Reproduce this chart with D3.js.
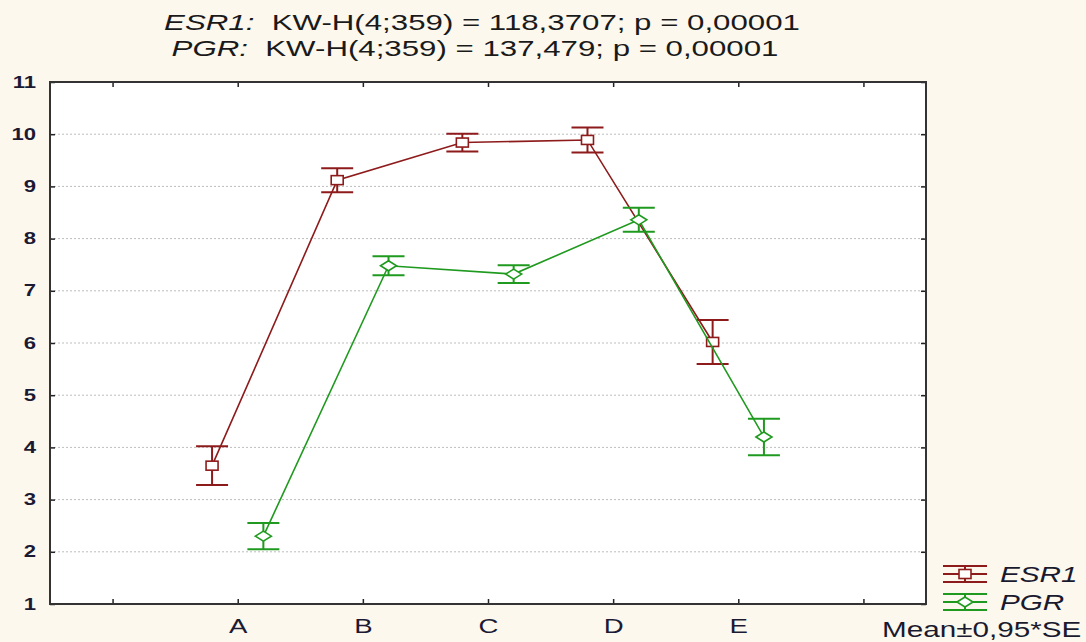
<!DOCTYPE html>
<html lang="en">
<head>
  <meta charset="UTF-8">
  <style>
    body {
      margin: 0;
      padding: 0;
      background: #fdf8ee;
      font-family: "Liberation Sans", Arial, sans-serif;
    }
    #chart {
      display: block;
    }
  </style>
</head>
<body>
  <svg id="chart"></svg>

  <script src="https://d3js.org/d3.v7.min.js"></script>
  <script>
    // data
    let xSlots = ["", "A", "B", "C", "D", "E", " "];
    let categories = ["A", "B", "C", "D", "E"];
    let esr1Mean = [3.65, 9.12, 9.84, 9.89, 6.02];
    let esr1Err  = [0.37, 0.23, 0.17, 0.24, 0.42];
    let pgrMean  = [2.30, 7.48, 7.32, 8.36, 4.20];
    let pgrErr   = [0.25, 0.18, 0.17, 0.23, 0.35];
    let yTicks = [1, 2, 3, 4, 5, 6, 7, 8, 9, 10, 11];
    let titleLines = [
      ["ESR1:", "  KW-H(4;359) = 118,3707; p = 0,00001"],
      ["PGR:", "  KW-H(4;359) = 137,479; p = 0,00001"]
    ];

    let width = 1086, height = 642;
    let pLeft = 50, pRight = 926, pTop = 82, pBottom = 604;
    let sx = 1.38; // the original picture is stretched sideways

    let svg = d3.select("#chart")
        .attr("width", width)
        .attr("height", height);

    svg.append("rect")
        .attr("width", width).attr("height", height)
        .attr("fill", "#fdf8ee");

    let x = d3.scalePoint().domain(xSlots).range([pLeft, pRight]).padding(0.5);
    let y = d3.scaleLinear().domain([1, 11]).range([pBottom, pTop]);

    // plot area
    svg.append("rect")
        .attr("x", pLeft).attr("y", pTop)
        .attr("width", pRight - pLeft).attr("height", pBottom - pTop)
        .attr("fill", "#ffffff");

    // grid
    svg.append("g")
        .selectAll("line")
        .data(yTicks.filter(d => d > 1 && d < 11))
        .enter()
        .append("line")
        .attr("x1", pLeft).attr("x2", pRight)
        .attr("y1", d => y(d)).attr("y2", d => y(d))
        .attr("stroke", "#bdbdbd")
        .attr("stroke-width", 1)
        .attr("stroke-dasharray", "2,2");

    // axes
    let yAxis = svg.append("g")
        .attr("transform", "translate(" + pLeft + ",0)")
        .call(d3.axisLeft(y).tickValues(yTicks).tickSize(-5).tickPadding(14));
    yAxis.selectAll("text")
        .attr("x", -14 / sx)
        .attr("transform", "scale(" + sx + ",1)")
        .style("font-size", "16px")
        .style("font-weight", "bold")
        .style("font-family", "'Liberation Sans', Arial, sans-serif")
        .attr("fill", "#1c1a33");

    svg.append("g")
        .attr("transform", "translate(" + pRight + ",0)")
        .call(d3.axisRight(y).tickValues(yTicks).tickSize(-5).tickFormat(""));

    let xAxis = svg.append("g")
        .attr("transform", "translate(0," + pBottom + ")")
        .call(d3.axisBottom(x).tickSize(-5).tickPadding(15));
    xAxis.selectAll("text")
        .attr("transform", "scale(" + sx + ",1)")
        .style("font-size", "20px")
        .style("font-family", "'Liberation Sans', Arial, sans-serif")
        .attr("fill", "#1c1a33");

    svg.append("g")
        .attr("transform", "translate(0," + pTop + ")")
        .call(d3.axisTop(x).tickSize(-5).tickFormat(""));

    svg.selectAll(".domain").remove();
    svg.selectAll(".tick line").attr("stroke", "#222").attr("stroke-width", 1.5);

    // border
    svg.append("rect")
        .attr("x", pLeft).attr("y", pTop)
        .attr("width", pRight - pLeft).attr("height", pBottom - pTop)
        .attr("fill", "none")
        .attr("stroke", "#333")
        .attr("stroke-width", 2);

    // series
    let off = x.step() * 0.205;
    let series = [
      { name: "ESR1", mean: esr1Mean, err: esr1Err, color: "#8e1b1b", dx: -off, shape: "square" },
      { name: "PGR", mean: pgrMean, err: pgrErr, color: "#1f9a1f", dx: off, shape: "diamond" }
    ];

    function marker(g, shape, color) {
      if (shape == "square") {
        g.append("rect")
          .attr("x", -6).attr("y", -4.5)
          .attr("width", 12).attr("height", 9)
          .attr("fill", "#fff")
          .attr("stroke", color)
          .attr("stroke-width", 1.6);
      } else {
        g.append("path")
          .attr("d", "M-8,0L0,-5L8,0L0,5Z")
          .attr("fill", "#fff")
          .attr("stroke", color)
          .attr("stroke-width", 1.6);
      }
    }

    series.forEach(s => {
      let pts = categories.map((c, i) => ({ x: x(c) + s.dx, m: s.mean[i], e: s.err[i] }));
      let g = svg.append("g");

      g.append("path")
          .datum(pts)
          .attr("d", d3.line().x(d => d.x).y(d => y(d.m)))
          .attr("fill", "none")
          .attr("stroke", s.color)
          .attr("stroke-width", 1.6);

      let bars = g.selectAll(".bar")
          .data(pts)
          .enter()
          .append("g");
      bars.append("line")
          .attr("x1", d => d.x).attr("x2", d => d.x)
          .attr("y1", d => y(d.m + d.e)).attr("y2", d => y(d.m - d.e))
          .attr("stroke", s.color).attr("stroke-width", 2);
      bars.append("line")
          .attr("x1", d => d.x - 16).attr("x2", d => d.x + 16)
          .attr("y1", d => y(d.m + d.e)).attr("y2", d => y(d.m + d.e))
          .attr("stroke", s.color).attr("stroke-width", 2);
      bars.append("line")
          .attr("x1", d => d.x - 16).attr("x2", d => d.x + 16)
          .attr("y1", d => y(d.m - d.e)).attr("y2", d => y(d.m - d.e))
          .attr("stroke", s.color).attr("stroke-width", 2);
      bars.each(function(d) {
        let mg = d3.select(this).append("g")
            .attr("transform", "translate(" + d.x + "," + y(d.m) + ")");
        marker(mg, s.shape, s.color);
      });
    });

    // title
    titleLines.forEach((ln, i) => {
      let t = svg.append("g")
          .attr("transform", "translate(" + (i == 0 ? 482 : 475) + "," + (30 + i * 26) + ") scale(1.42,1)")
          .append("text")
          .attr("text-anchor", "middle")
          .attr("fill", "#1a1a1a")
          .style("font-size", "22px")
          .style("white-space", "pre");
      t.append("tspan").style("font-style", "italic").text(ln[0]);
      t.append("tspan").text(ln[1]);
    });

    // legend
    let legY = [574, 602];
    series.forEach((s, i) => {
      let g = svg.append("g").attr("transform", "translate(965," + legY[i] + ")");
      [-8, 0, 8].forEach(dy => {
        g.append("line")
          .attr("x1", -22).attr("x2", 22)
          .attr("y1", dy).attr("y2", dy)
          .attr("stroke", s.color).attr("stroke-width", 2);
      });
      g.append("line")
          .attr("x1", 0).attr("x2", 0).attr("y1", -8).attr("y2", 8)
          .attr("stroke", s.color).attr("stroke-width", 2);
      marker(g, s.shape, s.color);
      svg.append("g")
          .attr("transform", "translate(1000," + (legY[i] + 8) + ") scale(" + sx + ",1)")
          .append("text")
          .style("font-size", "21.5px")
          .style("font-style", "italic")
          .attr("fill", "#1a1a2e")
          .text(s.name);
    });

    svg.append("g")
        .attr("transform", "translate(882,637) scale(" + sx + ",1)")
        .append("text")
        .style("font-size", "21.5px")
        .attr("fill", "#1a1a2e")
        .text("Mean\u00b10,95*SE");
  </script>
</body>
</html>
